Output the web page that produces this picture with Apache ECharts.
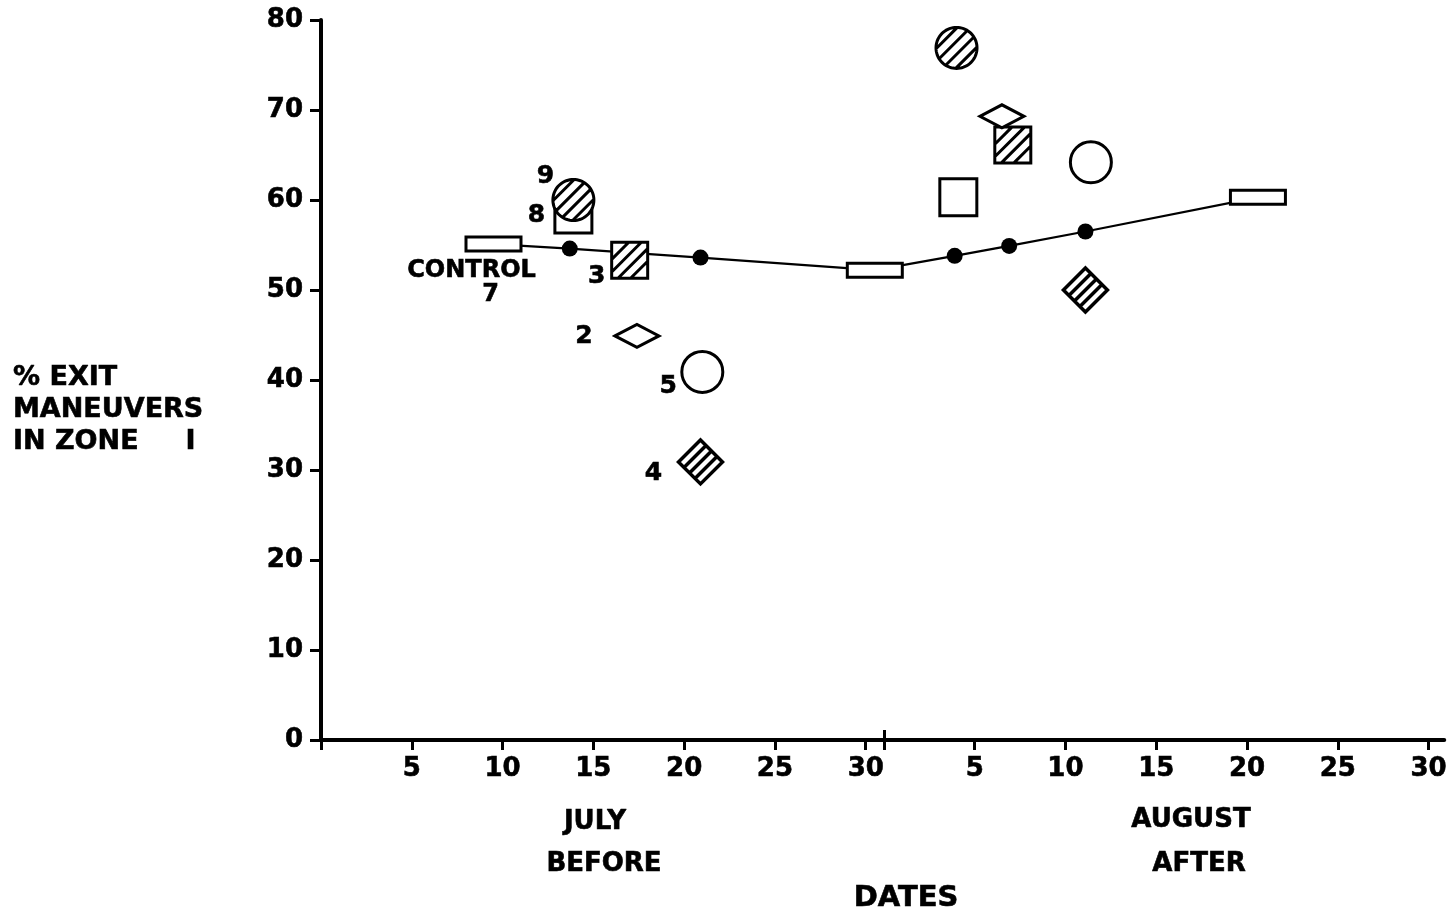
<!DOCTYPE html>
<html><head><meta charset="utf-8">
<script src="https://cdn.jsdelivr.net/npm/echarts@6/dist/echarts.min.js"></script>
<style>html,body{margin:0;padding:0;background:#fff}#chart{width:1450px;height:915px}</style>
</head><body><div id="chart"></div>
<script>
// ---- data (x = day of the period: July d -> d, August d -> 31 + d) ----
const markerNames = ['8', '3', '5', '4', '2', '9'];
const beforeDays = [13.9, 17.0, 21.0, 20.9, 17.4, 13.9];
const beforeValues = [58.4, 53.3, 40.9, 30.9, 44.9, 60.0];
const afterDays = [35.1, 38.1, 42.4, 42.1, 37.5, 35.0];
const afterValues = [60.3, 66.1, 64.2, 50.0, 69.3, 76.9];
const controlRectDays = [9.5, 30.5, 51.6];
const controlRectValues = [55.1, 52.2, 60.3];
const controlDotDays = [13.7, 20.9, 34.9, 37.9, 42.1];
const controlDotValues = [54.6, 53.6, 53.8, 54.9, 56.5];
const xTickDays = [0, 5, 10, 15, 20, 25, 30, 31, 36, 41, 46, 51, 56, 61];
const xLabelDays = [5, 10, 15, 20, 25, 30, 36, 41, 46, 51, 56, 61];
const xTickLabels = ['5', '10', '15', '20', '25', '30', '5', '10', '15', '20', '25', '30'];
const monthDivider = [31];
const yMin = 0, yMax = 80, yStep = 10;

// ---- symbol shapes ----
const FONT = 'DejaVu Sans';
function f(n) { return (Math.round(n * 1000) / 1000).toString(); }
function seg(a, b, c, d) { return 'M' + f(a) + ' ' + f(b) + 'L' + f(c) + ' ' + f(d); }
function circleOutline() {
  let s = '';
  for (let i = 0; i <= 72; i++) {
    const a = i / 72 * Math.PI * 2;
    s += (i ? 'L' : 'M') + f(Math.cos(a)) + ' ' + f(Math.sin(a));
  }
  return s + 'Z';
}
function hatchedCircle(ks) {
  let s = circleOutline();
  ks.forEach(k => {
    const r = Math.sqrt(2 - k * k);
    const x1 = (k - r) / 2, x2 = (k + r) / 2;
    s += seg(x1, k - x1, x2, k - x2);
  });
  return 'path://' + s;
}
function hatchedSquare(ks) {
  let s = 'M-1 -1L1 -1L1 1L-1 1Z';
  ks.forEach(k => {
    if (k >= 0) s += seg(k - 1, 1, 1, k - 1);
    else s += seg(-1, k + 1, k + 1, -1);
  });
  return 'path://' + s;
}
function stripedDiamond(ks) {
  let s = 'M0 -1L1 0L0 1L-1 0Z';
  ks.forEach(k => { s += seg((k - 1) / 2, (k + 1) / 2, (k + 1) / 2, (k - 1) / 2); });
  return 'path://' + s;
}
function boxPath(w, h) { return 'path://M0 0L' + w + ' 0L' + w + ' ' + h + 'L0 ' + h + 'Z'; }
function flatDiamond(w, h) { return 'path://M0 ' + h / 2 + 'L' + w / 2 + ' 0L' + w + ' ' + h / 2 + 'L' + w / 2 + ' ' + h + 'Z'; }

const markerStyle = {
  '8': { symbol: 'rect', size: 37, lw: 3, label: [-37, 1] },
  '3': { symbol: hatchedSquare([-1.05, -0.35, 0.35, 1.05]), size: 36, lw: 3, label: [-33, 16] },
  '5': { symbol: 'circle', size: 41, lw: 3, label: [-34, 15] },
  '4': { symbol: stripedDiamond([-0.5, 0, 0.5]), size: 44, lw: 3.5, label: [-47, 12] },
  '2': { symbol: flatDiamond(44, 23), size: 44, lw: 3, label: [-53, 1] },
  '9': { symbol: hatchedCircle([-0.96, -0.32, 0.32, 0.96]), size: 41, lw: 3, label: [-28, -24] }
};

const labelText = { color: '#000', fontFamily: FONT, fontWeight: 'bold', fontSize: 25, textBorderColor: '#000', textBorderWidth: 0.6 };

// control line through all control points, in date order
const controlAll = controlRectDays.map((d, i) => [d, controlRectValues[i]])
  .concat(controlDotDays.map((d, i) => [d, controlDotValues[i]]))
  .sort((a, b) => a[0] - b[0]);

const series = [
  {
    type: 'line', data: controlAll, symbol: 'none', z: 2,
    lineStyle: { color: '#000', width: 2.2 }, silent: true
  },
  {
    type: 'scatter', z: 3, symbol: boxPath(55, 14), symbolSize: 55, symbolKeepAspect: true,
    itemStyle: { color: '#fff', borderColor: '#000', borderWidth: 3, opacity: 1 },
    data: controlRectDays.map((d, i) => i === 0 ? {
      value: [d, controlRectValues[i]],
      label: {
        show: true, position: 'inside', offset: [-22, 39],
        formatter: '{a|CONTROL}\n{b|7}',
        rich: {
          a: Object.assign({}, labelText, { lineHeight: 24, fontSize: 24 }),
          b: Object.assign({}, labelText, { lineHeight: 24, fontSize: 24, padding: [0, 0, 0, 38] })
        }
      }
    } : { value: [d, controlRectValues[i]] })
  },
  {
    type: 'scatter', z: 3, symbol: 'circle', symbolSize: 16,
    itemStyle: { color: '#000', opacity: 1 },
    data: controlDotDays.map((d, i) => [d, controlDotValues[i]])
  }
];

markerNames.forEach((name, i) => {
  const st = markerStyle[name];
  series.push({
    type: 'scatter', z: 4 + i, symbol: st.symbol, symbolSize: st.size, symbolKeepAspect: true,
    itemStyle: { color: '#fff', borderColor: '#000', borderWidth: st.lw, opacity: 1 },
    data: [
      {
        value: [beforeDays[i], beforeValues[i]],
        label: Object.assign({ show: true, position: 'inside', offset: st.label, formatter: name }, labelText)
      },
      { value: [afterDays[i], afterValues[i]] }
    ]
  });
});

const axisText = { color: '#000', fontFamily: FONT, fontWeight: 'bold', fontSize: 26, textBorderColor: '#000', textBorderWidth: 0.6 };

function txt(x, y, text, size) {
  return {
    type: 'text', x: x, y: y,
    style: {
      text: text, font: 'bold ' + size + 'px "DejaVu Sans"', fill: '#000', stroke: '#000', lineWidth: 0.6,
      align: 'center', verticalAlign: 'middle', textAlign: 'center', textVerticalAlign: 'middle'
    }
  };
}

const option = {
  animation: false,
  backgroundColor: '#fff',
  grid: { left: 321, right: 0, top: 20, bottom: 175, containLabel: false },
  xAxis: [
    {
      type: 'value', min: 0, max: 61.86, position: 'bottom',
      axisLine: { show: true, onZero: false, lineStyle: { color: '#000', width: 4 } },
      axisTick: { show: true, customValues: xTickDays, length: 10, lineStyle: { color: '#000', width: 3 } },
      axisLabel: Object.assign({
        customValues: xLabelDays, margin: 16,
        formatter: v => {
          const k = xLabelDays.findIndex(d => Math.abs(d - v) < 0.01);
          return k >= 0 ? xTickLabels[k] : '';
        }
      }, axisText),
      splitLine: { show: false }
    },
    {
      type: 'value', min: 0, max: 61.86, position: 'bottom',
      axisLine: { show: false, onZero: false },
      axisTick: { show: true, inside: true, customValues: monthDivider, length: 10, lineStyle: { color: '#000', width: 3 } },
      axisLabel: { show: false },
      splitLine: { show: false }
    }
  ],
  yAxis: {
    type: 'value', min: yMin, max: yMax, interval: yStep,
    axisLine: { show: true, lineStyle: { color: '#000', width: 4 } },
    axisTick: { show: true, length: 11, lineStyle: { color: '#000', width: 3 } },
    axisLabel: Object.assign({ margin: 18 }, axisText),
    splitLine: { show: false }
  },
  graphic: [
    { type: 'text', x: 13, y: 362, style: { text: '% EXIT\nMANEUVERS\nIN ZONE     I', font: 'bold 27px "DejaVu Sans"', lineHeight: 32, fill: '#000', stroke: '#000', lineWidth: 0.6 } },
    txt(595, 822, 'JULY', 26),
    txt(604, 864, 'BEFORE', 26),
    txt(1191, 820, 'AUGUST', 26),
    txt(1199, 864, 'AFTER', 26),
    txt(906, 898, 'DATES', 29)
  ],
  series: series
};

const chart = echarts.init(document.getElementById('chart'), null, { renderer: 'canvas' });
chart.setOption(option);
</script>
</body></html>
